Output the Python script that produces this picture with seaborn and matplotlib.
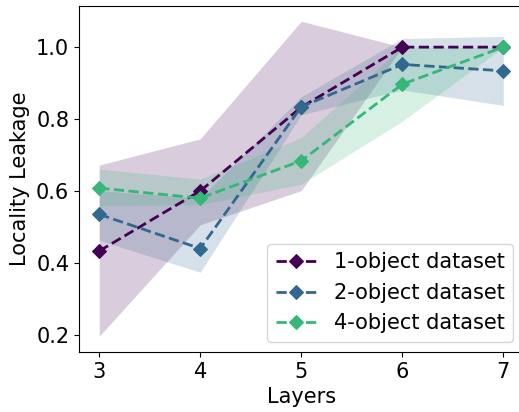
import pandas as pd
import numpy as np
import matplotlib
matplotlib.use("Agg")
import matplotlib.pyplot as plt
import seaborn as sns

# Datos
layers = [3, 4, 5, 6, 7]
datasets = ["1-object dataset", "2-object dataset", "4-object dataset"]

leak_1obj = [0.433, 0.600, 0.833, 1.000, 1.000]
low_1obj = [0.196, 0.506, 0.601, 1.000, 1.000]
high_1obj = [0.672, 0.745, 1.072, 1.000, 1.000]

leak_2obj = [0.535, 0.440, 0.834, 0.952, 0.934]
low_2obj = [0.463, 0.374, 0.812, 0.881, 0.838]
high_2obj = [0.601, 0.580, 0.862, 1.024, 1.030]

leak_4obj = [0.608, 0.580, 0.684, 0.897, 1.000]
low_4obj = [0.559, 0.562, 0.619, 0.794, 1.000]
high_4obj = [0.661, 0.633, 0.748, 1.000, 1.000]

colores = ["#440154", "#31688e", "#35b779"]

medias = [leak_1obj, leak_2obj, leak_4obj]
bajos = [low_1obj, low_2obj, low_4obj]
altos = [high_1obj, high_2obj, high_4obj]

plt.rcParams["font.family"] = ["DejaVu Sans"]

fig = plt.figure(figsize=(5.19, 4.12), dpi=100)
ax = fig.add_axes([79 / 519, 60 / 412, 444.5 / 519, 346.5 / 412])

for nombre, media, bajo, alto, color in zip(datasets, medias, bajos, altos, colores):
    df = pd.DataFrame({"Layers": layers, "Leakage": media})
    sns.lineplot(data=df, x="Layers", y="Leakage", ax=ax, color=color,
                 marker="D", markersize=7, linestyle="--", linewidth=2,
                 markeredgecolor=color, label=nombre, errorbar=None)
    ax.fill_between(layers, bajo, alto, color=color, alpha=0.2, linewidth=0)

ax.set_xticks(layers)
ax.set_xlabel("Layers", fontsize=15)
ax.set_ylabel("Locality Leakage", fontsize=15)
ax.tick_params(labelsize=15)
ax.legend(loc="lower right", fontsize=15)

fig.savefig("out.png", dpi=100)
